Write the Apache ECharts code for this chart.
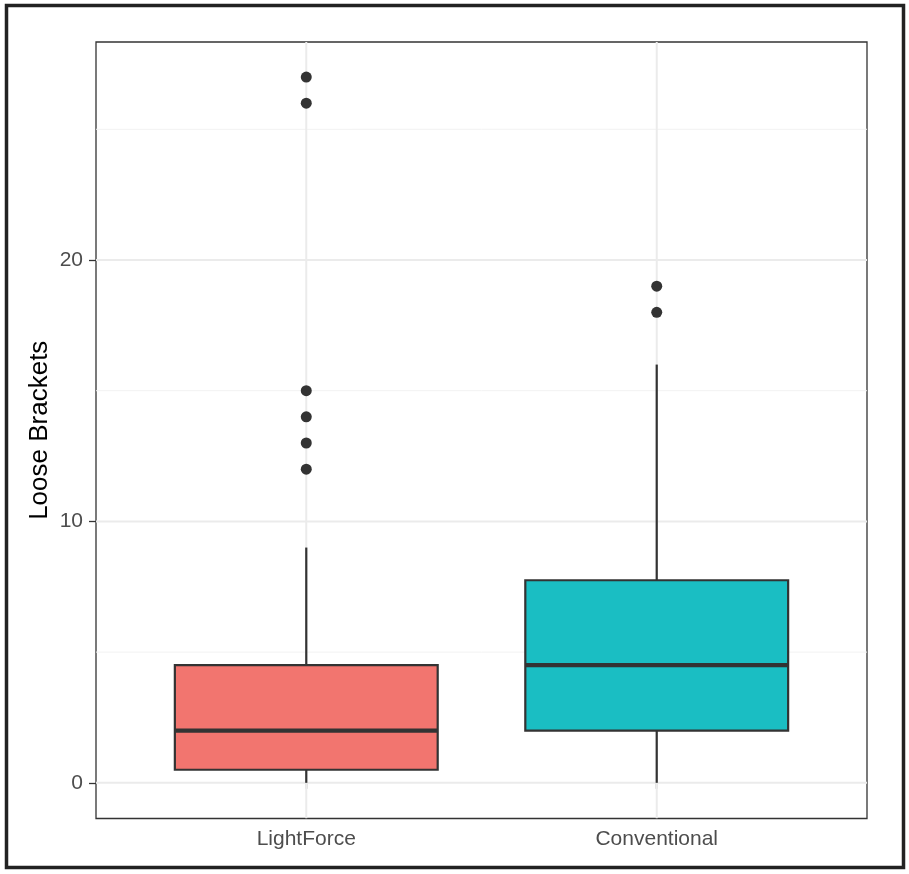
<!DOCTYPE html>
<html><head><meta charset="utf-8">
<script src="https://cdn.jsdelivr.net/npm/echarts@6/dist/echarts.min.js"></script>
<style>html,body{margin:0;padding:0;background:#fff}#c{width:909px;height:874px}</style>
</head><body><div id="c"></div>
<script>
const categories = ['LightForce', 'Conventional'];
// [whiskerLow, Q1, median, Q3, whiskerHigh]
const lightForceBox = [0, 0.5, 2, 4.5, 9];
const conventionalBox = [0, 2, 4.5, 7.75, 16];
const lightForceOutliers = [12, 13, 14, 15, 26, 27];
const conventionalOutliers = [18, 19];
const fillColors = ['#F2756F', '#1ABEC3'];
const yTicks = [0, 10, 20];
const yMinor = [5, 15, 25];
const xTicks = [1, 2];

const boxes = [lightForceBox, conventionalBox];
const boxData = boxes.map((b, i) => [i + 1].concat(b));
const outlierData = [];
[lightForceOutliers, conventionalOutliers].forEach((arr, i) => arr.forEach(v => outlierData.push([i + 1, v])));
const gridData = [];
yTicks.forEach(v => gridData.push(['y', v, 1]));
yMinor.forEach(v => gridData.push(['y', v, 0]));
xTicks.forEach(v => gridData.push(['x', v, 1]));

const chart = echarts.init(document.getElementById('c'));
const BOXW = 0.75;
chart.setOption({
  animation: false,
  grid: { left: 96, top: 42, right: 42, bottom: 55.5, show: true, borderColor: '#333', borderWidth: 1.3, backgroundColor: 'transparent' },
  xAxis: {
    type: 'value', min: 0.4, max: 2.6,
    axisLine: { show: false },
    splitLine: { show: false },
    axisTick: { show: true, customValues: xTicks, length: 6, lineStyle: { color: '#333', width: 1.3 } },
    axisLabel: { customValues: xTicks, formatter: v => categories[Math.round(v) - 1] || '', color: '#4d4d4d', fontSize: 21, fontFamily: 'Liberation Sans', margin: 10 }
  },
  yAxis: {
    type: 'value', min: -1.365, max: 28.34,
    name: 'Loose Brackets', nameLocation: 'middle', nameGap: 43, nameMoveOverlap: false,
    nameTextStyle: { color: '#000', fontSize: 26, fontFamily: 'Liberation Sans' },
    axisLine: { show: false },
    splitLine: { show: false },
    axisTick: { show: true, customValues: yTicks, length: 7, lineStyle: { color: '#333', width: 1.3 } },
    axisLabel: { customValues: yTicks, color: '#4d4d4d', fontSize: 21, fontFamily: 'Liberation Sans', margin: 13 }
  },
  graphic: [{ type: 'rect', shape: { x: 6.5, y: 5.5, width: 897, height: 862 }, style: { fill: 'none', stroke: '#222', lineWidth: 3.5 }, z: 100 }],
  series: [
    {
      type: 'custom', z: 1, silent: true, clip: true,
      data: gridData,
      encode: { x: -1, y: -1 },
      renderItem: (params, api) => {
        const kind = api.value(0), v = api.value(1), major = api.value(2);
        const cs = params.coordSys;
        let shape;
        if (kind === 'y') {
          const p = api.coord([1, v]);
          shape = { x1: cs.x, y1: p[1], x2: cs.x + cs.width, y2: p[1] };
        } else {
          const p = api.coord([v, 0]);
          shape = { x1: p[0], y1: cs.y, x2: p[0], y2: cs.y + cs.height };
        }
        return { type: 'line', shape, style: { stroke: major ? '#EBEBEB' : '#F2F2F2', lineWidth: major ? 2 : 1 } };
      }
    },
    {
      type: 'custom', z: 2,
      data: boxData,
      encode: { x: 0, y: [1, 2, 3, 4, 5] },
      renderItem: (params, api) => {
        const x = api.value(0);
        const lo = api.coord([x, api.value(1)]);
        const q1 = api.coord([x, api.value(2)]);
        const med = api.coord([x, api.value(3)]);
        const q3 = api.coord([x, api.value(4)]);
        const hi = api.coord([x, api.value(5)]);
        const left = api.coord([x - BOXW / 2, 0])[0];
        const right = api.coord([x + BOXW / 2, 0])[0];
        const st = { stroke: '#333', lineWidth: 2.2 };
        return { type: 'group', children: [
          { type: 'line', shape: { x1: lo[0], y1: lo[1], x2: q1[0], y2: q1[1] }, style: st },
          { type: 'line', shape: { x1: q3[0], y1: q3[1], x2: hi[0], y2: hi[1] }, style: st },
          { type: 'rect', shape: { x: left, y: q3[1], width: right - left, height: q1[1] - q3[1] }, style: { fill: fillColors[params.dataIndex], stroke: '#333', lineWidth: 2.2 } },
          { type: 'line', shape: { x1: left, y1: med[1], x2: right, y2: med[1] }, style: { stroke: '#333', lineWidth: 4.2 } }
        ] };
      }
    },
    {
      type: 'scatter', z: 3,
      data: outlierData,
      symbolSize: 11,
      itemStyle: { color: '#333', opacity: 1 }
    }
  ]
});
</script></body></html>
